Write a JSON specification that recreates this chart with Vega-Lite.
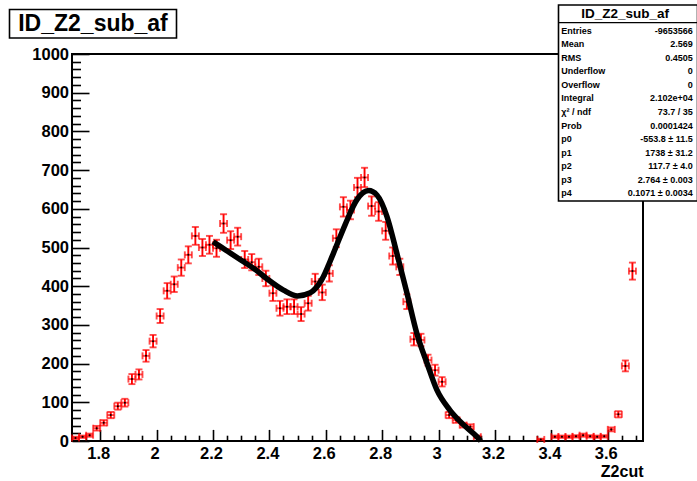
{
  "$schema": "https://vega.github.io/schema/vega-lite/v6.json",
  "width": 571,
  "height": 387,
  "autosize": {"type": "none"},
  "padding": {"left": 72, "top": 54, "right": 54, "bottom": 40},
  "background": "white",
  "config": {
    "view": {"stroke": "black", "strokeWidth": 2},
    "font": "Liberation Sans",
    "axis": {
      "domain": false,
      "grid": false,
      "tickColor": "black",
      "tickWidth": 1.6,
      "labelColor": "black",
      "labelFont": "Liberation Sans",
      "labelFontWeight": "bold",
      "labelFontSize": 16.5,
      "titleFont": "Liberation Sans",
      "titleFontWeight": "bold",
      "titleColor": "black"
    }
  },
  "datasets": {
    "hist": [
      {"z": 1.7125, "n": 8, "e": 3}, {"z": 1.7375, "n": 11, "e": 3}, {"z": 1.7625, "n": 15, "e": 4},
      {"z": 1.7875, "n": 33, "e": 6}, {"z": 1.8125, "n": 47, "e": 7}, {"z": 1.8375, "n": 67, "e": 8},
      {"z": 1.8625, "n": 90, "e": 9}, {"z": 1.8875, "n": 99, "e": 10}, {"z": 1.9125, "n": 160, "e": 13},
      {"z": 1.9375, "n": 172, "e": 13}, {"z": 1.9625, "n": 220, "e": 15}, {"z": 1.9875, "n": 258, "e": 16},
      {"z": 2.0125, "n": 323, "e": 18}, {"z": 2.0375, "n": 388, "e": 20}, {"z": 2.0625, "n": 405, "e": 20},
      {"z": 2.0875, "n": 448, "e": 21}, {"z": 2.1125, "n": 481, "e": 22}, {"z": 2.1375, "n": 530, "e": 23},
      {"z": 2.1625, "n": 500, "e": 22}, {"z": 2.1875, "n": 507, "e": 23}, {"z": 2.2125, "n": 498, "e": 22},
      {"z": 2.2375, "n": 562, "e": 24}, {"z": 2.2625, "n": 519, "e": 23}, {"z": 2.2875, "n": 528, "e": 23},
      {"z": 2.3125, "n": 469, "e": 22}, {"z": 2.3375, "n": 462, "e": 21}, {"z": 2.3625, "n": 450, "e": 21},
      {"z": 2.3875, "n": 420, "e": 20}, {"z": 2.4125, "n": 382, "e": 20}, {"z": 2.4375, "n": 343, "e": 19},
      {"z": 2.4625, "n": 347, "e": 19}, {"z": 2.4875, "n": 347, "e": 19}, {"z": 2.5125, "n": 328, "e": 18},
      {"z": 2.5375, "n": 356, "e": 19}, {"z": 2.5625, "n": 412, "e": 20}, {"z": 2.5875, "n": 384, "e": 20},
      {"z": 2.6125, "n": 433, "e": 21}, {"z": 2.6375, "n": 524, "e": 23}, {"z": 2.6625, "n": 605, "e": 25},
      {"z": 2.6875, "n": 597, "e": 24}, {"z": 2.7125, "n": 655, "e": 25}, {"z": 2.7375, "n": 681, "e": 25},
      {"z": 2.7625, "n": 607, "e": 25}, {"z": 2.7875, "n": 593, "e": 24}, {"z": 2.8125, "n": 543, "e": 23},
      {"z": 2.8375, "n": 478, "e": 22}, {"z": 2.8625, "n": 450, "e": 21}, {"z": 2.8875, "n": 360, "e": 19},
      {"z": 2.9125, "n": 263, "e": 16}, {"z": 2.9375, "n": 261, "e": 16}, {"z": 2.9625, "n": 209, "e": 14},
      {"z": 2.9875, "n": 183, "e": 14}, {"z": 3.0125, "n": 153, "e": 12}, {"z": 3.0375, "n": 67, "e": 8},
      {"z": 3.0625, "n": 54, "e": 7}, {"z": 3.0875, "n": 41, "e": 6}, {"z": 3.1125, "n": 37, "e": 6},
      {"z": 3.1375, "n": 11, "e": 3},
      {"z": 3.3625, "n": 4, "e": 2},
      {"z": 3.4125, "n": 11, "e": 3}, {"z": 3.4375, "n": 11, "e": 3}, {"z": 3.4625, "n": 11, "e": 3},
      {"z": 3.4875, "n": 12, "e": 3}, {"z": 3.5125, "n": 15, "e": 4}, {"z": 3.5375, "n": 12, "e": 3},
      {"z": 3.5625, "n": 11, "e": 3}, {"z": 3.5875, "n": 12, "e": 3}, {"z": 3.6125, "n": 30, "e": 5},
      {"z": 3.6375, "n": 69, "e": 8}, {"z": 3.6625, "n": 194, "e": 14}, {"z": 3.6875, "n": 439, "e": 22}
    ],
    "fit": [
      {"z": 2.2, "f": 515}, {"z": 2.25, "f": 491}, {"z": 2.3, "f": 467}, {"z": 2.35, "f": 443},
      {"z": 2.39, "f": 420}, {"z": 2.45, "f": 390}, {"z": 2.5, "f": 375}, {"z": 2.545, "f": 383},
      {"z": 2.585, "f": 416}, {"z": 2.627, "f": 485}, {"z": 2.668, "f": 558}, {"z": 2.71, "f": 623},
      {"z": 2.752, "f": 647}, {"z": 2.782, "f": 635}, {"z": 2.817, "f": 580}, {"z": 2.852, "f": 485},
      {"z": 2.888, "f": 382}, {"z": 2.923, "f": 278}, {"z": 2.959, "f": 201}, {"z": 2.994, "f": 132},
      {"z": 3.04, "f": 80}, {"z": 3.09, "f": 41}, {"z": 3.136, "f": 11}, {"z": 3.15, "f": 0}
    ],
    "stats": [
      {"name": "Entries", "val": "-9653566"},
      {"name": "Mean", "val": "2.569"},
      {"name": "RMS", "val": "0.4505"},
      {"name": "Underflow", "val": "0"},
      {"name": "Overflow", "val": "0"},
      {"name": "Integral", "val": "2.102e+04"},
      {"name": "χ² / ndf", "val": "73.7 / 35"},
      {"name": "Prob", "val": "0.0001424"},
      {"name": "p0", "val": "-553.8 ± 11.5"},
      {"name": "p1", "val": "1738 ± 31.2"},
      {"name": "p2", "val": "117.7 ± 4.0"},
      {"name": "p3", "val": "2.764 ± 0.003"},
      {"name": "p4", "val": "0.1071 ± 0.0034"}
    ]
  },
  "layer": [
    {
      "resolve": {"axis": {"x": "independent", "y": "independent"}},
      "layer": [
        {
          "data": {"name": "hist"},
          "mark": {"type": "errorbar", "ticks": true, "size": 7, "thickness": 1.9, "color": "#ff0000"},
          "encoding": {
            "x": {"field": "z", "type": "quantitative", "scale": {"domain": [1.7, 3.725], "nice": false, "zero": false}, "axis": null},
            "y": {"field": "n", "type": "quantitative", "scale": {"domain": [0, 1000], "nice": false}, "axis": null},
            "yError": {"field": "e"}
          }
        },
        {
          "data": {"name": "hist"},
          "mark": {"type": "tick", "orient": "horizontal", "size": 7, "thickness": 1.9, "color": "#ff0000"},
          "encoding": {
            "x": {"field": "z", "type": "quantitative", "axis": null},
            "y": {"field": "n", "type": "quantitative", "axis": null}
          }
        },
        {
          "data": {"name": "hist"},
          "mark": {"type": "tick", "orient": "vertical", "size": 7, "thickness": 1.9, "color": "#ff0000", "xOffset": -3.5},
          "encoding": {
            "x": {"field": "z", "type": "quantitative", "axis": null},
            "y": {"field": "n", "type": "quantitative", "axis": null}
          }
        },
        {
          "data": {"name": "hist"},
          "mark": {"type": "tick", "orient": "vertical", "size": 7, "thickness": 1.9, "color": "#ff0000", "xOffset": 3.5},
          "encoding": {
            "x": {"field": "z", "type": "quantitative", "axis": null},
            "y": {"field": "n", "type": "quantitative", "axis": null}
          }
        },
        {
          "data": {"name": "hist"},
          "mark": {"type": "point", "filled": true, "size": 4, "color": "black", "opacity": 1},
          "encoding": {
            "x": {"field": "z", "type": "quantitative",
              "axis": {"orient": "bottom", "values": [1.8, 2, 2.2, 2.4, 2.6, 2.8, 3, 3.2, 3.4, 3.6], "format": "~g",
                "tickSize": -11.6, "labelPadding": 16.5, "labelOffset": -2, "labelFlush": false,
                "title": "Z2cut", "titleFontSize": 16, "titleAnchor": "end", "titleAlign": "right", "titlePadding": 1.5}},
            "y": {"field": "n", "type": "quantitative",
              "axis": {"orient": "left", "values": [0, 100, 200, 300, 400, 500, 600, 700, 800, 900, 1000], "format": "d",
                "tickSize": -17, "labelPadding": 20.5, "labelFlush": false, "title": null}}
          }
        },
        {
          "data": {"name": "fit"},
          "mark": {"type": "line", "color": "black", "strokeWidth": 5.5, "interpolate": "monotone"},
          "encoding": {
            "x": {"field": "z", "type": "quantitative",
              "axis": {"orient": "bottom", "values": [1.7, 1.75, 1.85, 1.9, 1.95, 2.05, 2.1, 2.15, 2.25, 2.3, 2.35, 2.45, 2.5, 2.55, 2.65, 2.7, 2.75, 2.85, 2.9, 2.95, 3.05, 3.1, 3.15, 3.25, 3.3, 3.35, 3.45, 3.5, 3.55, 3.65, 3.7],
                "tickSize": -5.8, "labels": false, "title": null}},
            "y": {"field": "f", "type": "quantitative",
              "axis": {"orient": "left", "values": [20, 40, 60, 80, 120, 140, 160, 180, 220, 240, 260, 280, 320, 340, 360, 380, 420, 440, 460, 480, 520, 540, 560, 580, 620, 640, 660, 680, 720, 740, 760, 780, 820, 840, 860, 880, 920, 940, 960, 980],
                "tickSize": -8.5, "labels": false, "title": null}}
          }
        }
      ]
    },
    {
      "data": {"values": [{}]},
      "layer": [
        {
          "mark": {"type": "rect", "fill": "white", "stroke": "black", "strokeWidth": 1.6},
          "encoding": {
            "x": {"datum": 0, "type": "quantitative", "scale": {"domain": [0, 1], "range": [486.5, 625.5]}, "axis": null},
            "x2": {"datum": 1},
            "y": {"datum": 0, "type": "quantitative", "scale": {"domain": [0, 1], "range": [-49, 147]}, "axis": null},
            "y2": {"datum": 1}
          }
        },
        {
          "mark": {"type": "rule", "color": "black", "strokeWidth": 1.2},
          "encoding": {
            "x": {"datum": 0, "type": "quantitative", "axis": null},
            "x2": {"datum": 1},
            "y": {"datum": 0.09, "type": "quantitative", "axis": null}
          }
        },
        {
          "mark": {"type": "text", "text": "ID_Z2_sub_af", "font": "Liberation Sans", "fontWeight": "bold", "fontSize": 13.5, "align": "center", "baseline": "middle", "color": "black"},
          "encoding": {
            "x": {"datum": 0.48, "type": "quantitative", "axis": null},
            "y": {"datum": 0.045, "type": "quantitative", "axis": null}
          }
        }
      ]
    },
    {
      "data": {"name": "stats"},
      "layer": [
        {
          "mark": {"type": "text", "align": "left", "baseline": "middle", "font": "Liberation Sans", "fontWeight": "bold", "fontSize": 9, "color": "black"},
          "encoding": {
            "x": {"datum": 0.02, "type": "quantitative", "scale": {"domain": [0, 1], "range": [486.5, 625.5]}, "axis": null},
            "y": {"field": "name", "type": "nominal", "sort": null, "scale": {"type": "point", "range": [-23.3, 139.3], "padding": 0}, "axis": null},
            "text": {"field": "name"}
          }
        },
        {
          "mark": {"type": "text", "align": "right", "baseline": "middle", "font": "Liberation Sans", "fontWeight": "bold", "fontSize": 9, "color": "black"},
          "encoding": {
            "x": {"datum": 0.966, "type": "quantitative", "axis": null},
            "y": {"field": "name", "type": "nominal", "sort": null, "axis": null},
            "text": {"field": "val"}
          }
        }
      ]
    },
    {
      "data": {"values": [{}]},
      "layer": [
        {
          "mark": {"type": "rect", "fill": "white", "stroke": "black", "strokeWidth": 1.6},
          "encoding": {
            "x": {"datum": 0, "type": "quantitative", "scale": {"domain": [0, 1], "range": [-62.5, 104.5]}, "axis": null},
            "x2": {"datum": 1},
            "y": {"datum": 0, "type": "quantitative", "scale": {"domain": [0, 1], "range": [-44.5, -16]}, "axis": null},
            "y2": {"datum": 1}
          }
        },
        {
          "mark": {"type": "text", "text": "ID_Z2_sub_af", "font": "Liberation Sans", "fontWeight": "bold", "fontSize": 23, "align": "center", "baseline": "middle", "color": "black"},
          "encoding": {
            "x": {"datum": 0.5, "type": "quantitative", "axis": null},
            "y": {"datum": 0.5, "type": "quantitative", "axis": null}
          }
        }
      ]
    }
  ],
  "resolve": {"scale": {"x": "independent", "y": "independent"}}
}
